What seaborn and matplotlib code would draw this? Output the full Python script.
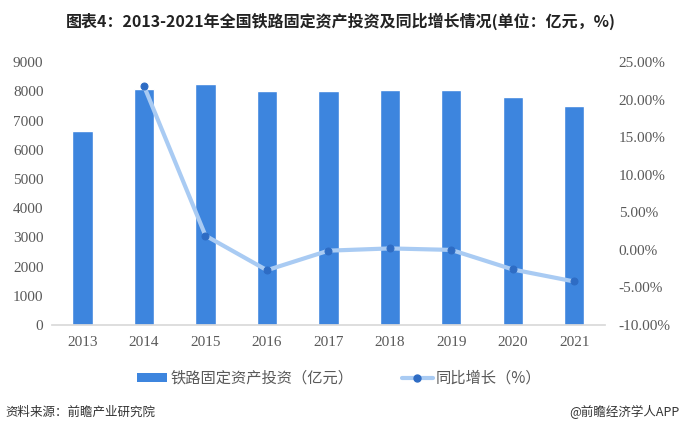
import matplotlib
matplotlib.use("Agg")
import matplotlib.pyplot as plt
import seaborn as sns
import pandas as pd
import numpy as np
from matplotlib.ticker import FuncFormatter, MultipleLocator
from matplotlib.lines import Line2D
from matplotlib.patches import Patch

years = ["2013", "2014", "2015", "2016", "2017", "2018", "2019", "2020", "2021"]
investment = [6638, 8088, 8238, 8015, 8010, 8028, 8029, 7819, 7489]
growth = [None, 21.8, 1.9, -2.7, -0.1, 0.2, 0.0, -2.6, -4.2]

sns.set_theme(style="white")
plt.rcParams['font.family'] = ['Noto Sans CJK SC', 'DejaVu Sans']

df = pd.DataFrame({"year": years, "inv": investment, "g": growth})
df["pos"] = range(len(years))

fig = plt.figure(figsize=(6.82, 4.34), dpi=100)
ax = fig.add_axes([0.076, 0.251, 0.811, 0.606])

bar_color = "#3d85de"
line_color = "#a9cbf3"
marker_color = "#2e6cc4"

sns.barplot(data=df, x="year", y="inv", color=bar_color, width=0.33,
            saturation=1, ax=ax)
ax.set_ylim(0, 9000)
ax.set_xlim(-0.5, len(years) - 0.5)
ax.yaxis.set_major_locator(MultipleLocator(1000))
ax.set_xlabel("")
ax.set_ylabel("")
for s in ["left", "right", "top"]:
    ax.spines[s].set_visible(False)
ax.spines["bottom"].set_color("#d9d9d9")
ax.tick_params(axis="both", length=0, labelcolor="#595959")
for lab in ax.get_yticklabels() + ax.get_xticklabels():
    lab.set_fontfamily("Liberation Serif")
    lab.set_fontsize(11)
ax.tick_params(axis="y", pad=6)
ax.tick_params(axis="x", pad=8)

ax2 = ax.twinx()
gd = df.dropna(subset=["g"])
sns.lineplot(x=gd["pos"], y=gd["g"], ax=ax2, color=line_color, linewidth=3,
             marker="o", markersize=5, markerfacecolor=marker_color,
             markeredgecolor=marker_color)
ax2.set_ylim(-10, 25)
ax2.set_xlim(-0.5, len(years) - 0.5)
ax2.yaxis.set_major_locator(MultipleLocator(5))
ax2.yaxis.set_major_formatter(FuncFormatter(lambda v, p: f"{v:.2f}%"))
ax2.set_ylabel("")
ax2.set_xlabel("")
for s in ["left", "right", "top", "bottom"]:
    ax2.spines[s].set_visible(False)
ax2.tick_params(axis="y", length=0, labelcolor="#595959", pad=10)
for lab in ax2.get_yticklabels():
    lab.set_fontfamily("Liberation Serif")
    lab.set_fontsize(11)

fig.text(0.5, 0.952, "图表4：2013-2021年全国铁路固定资产投资及同比增长情况(单位：亿元，%)",
         ha="center", va="center", fontsize=11.5, fontweight="bold", color="#222222")

handles = [Patch(facecolor=bar_color, edgecolor="none"),
           Line2D([0], [0], color=line_color, linewidth=3, marker="o",
                  markersize=5, markerfacecolor=marker_color,
                  markeredgecolor=marker_color)]
fig.legend(handles, ["铁路固定资产投资（亿元）", "同比增长（%）"],
           loc="center", bbox_to_anchor=(0.497, 0.128), ncol=2, frameon=False,
           fontsize=11, handlelength=2.0, handleheight=0.6, columnspacing=3.2,
           handletextpad=0.2, labelcolor="#595959")

fig.text(0.008, 0.05, "资料来源：前瞻产业研究院", ha="left", va="center",
         fontsize=9, color="#333333")
fig.text(0.997, 0.05, "@前瞻经济学人APP", ha="right", va="center",
         fontsize=9, color="#333333")

fig.savefig("out.png", dpi=100)
